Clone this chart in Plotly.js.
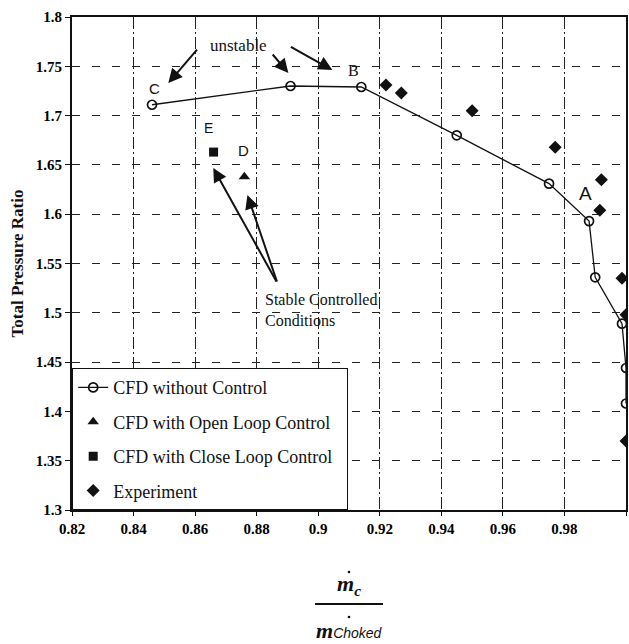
<!DOCTYPE html>
<html>
<head>
<meta charset="utf-8">
<script src="https://cdn.plot.ly/plotly-3.0.1.min.js"></script>
<style>html,body{margin:0;padding:0;background:#fff}#chart{width:629px;height:644px}</style>
</head>
<body>
<div id="chart"></div>
<script>
// Data
var cfdX = [0.846, 0.891, 0.914, 0.945, 0.975, 0.988, 0.990, 0.9987, 1.000, 1.000];
var cfdY = [1.711, 1.730, 1.729, 1.680, 1.631, 1.593, 1.536, 1.489, 1.444, 1.408];
var openX = [0.876];
var openY = [1.638];
var closeX = [0.866];
var closeY = [1.663];
var expX = [0.922, 0.927, 0.950, 0.977, 0.992, 0.9915, 0.9987, 1.000, 1.000];
var expY = [1.731, 1.723, 1.705, 1.668, 1.635, 1.604, 1.535, 1.498, 1.370];
var seriesNames = ['CFD without Control', 'CFD with Open Loop Control', 'CFD with Close Loop Control\u00a0\u00a0', 'Experiment'];
var xTickVals = [0.82, 0.84, 0.86, 0.88, 0.90, 0.92, 0.94, 0.96, 0.98, 1.00];
var xTickText = ['0.82', '0.84', '0.86', '0.88', '0.9', '0.92', '0.94', '0.96', '0.98', '1'];
var yTickVals = [1.30, 1.35, 1.40, 1.45, 1.50, 1.55, 1.60, 1.65, 1.70, 1.75, 1.80];
var yTickText = ['1.3', '1.35', '1.4', '1.45', '1.5', '1.55', '1.6', '1.65', '1.7', '1.75', '1.8'];

var serif = 'Liberation Serif, Times New Roman, serif';
var sans = 'Liberation Sans, Arial, sans-serif';

function bold(arr) { return arr.map(function (t) { return '<b>' + t + '</b>'; }); }

var traces = [
  {x: cfdX, y: cfdY, name: seriesNames[0], mode: 'lines+markers', type: 'scatter', legendgroup: 'a',
   line: {color: '#111', width: 1.3},
   marker: {symbol: 'circle-open', size: 9, color: '#111', line: {width: 1.7, color: '#111'}}},
  {x: openX, y: openY, name: seriesNames[1], mode: 'markers', type: 'scatter', legendgroup: 'b',
   marker: {symbol: 'triangle-up', size: 10, color: '#111'}},
  {x: closeX, y: closeY, name: seriesNames[2], mode: 'markers', type: 'scatter', legendgroup: 'c',
   marker: {symbol: 'square', size: 9, color: '#111'}},
  {x: expX, y: expY, name: seriesNames[3], mode: 'markers', type: 'scatter', legendgroup: 'd',
   marker: {symbol: 'diamond', size: 10, color: '#111'}}
];

function arrow(x, y, ax, ay) {
  return {x: x, y: y, xref: 'x', yref: 'y', ax: ax, ay: ay, text: '', showarrow: true,
          arrowhead: 2, arrowsize: 1.4, arrowwidth: 2, arrowcolor: '#111'};
}
function label(x, y, t, font, size, extra) {
  var a = {x: x, y: y, xref: 'x', yref: 'y', text: t, showarrow: false,
           font: {family: font, size: size, color: '#111'}};
  for (var k in extra) a[k] = extra[k];
  return a;
}

var annotations = [
  label(0.874, 1.771, 'unstable', serif, 17),
  arrow(0.8513, 1.733, 30, -35),
  arrow(0.8903, 1.7432, -17, -20),
  arrow(0.9046, 1.7462, -43, -24),
  label(0.8467, 1.727, 'C', sans, 15),
  label(0.8643, 1.6874, 'E', sans, 14),
  label(0.8757, 1.665, 'D', sans, 15),
  label(0.9115, 1.746, 'B', serif, 16),
  label(0.987, 1.6215, 'A', sans, 19),
  arrow(0.8659, 1.6469, 64, 115),
  arrow(0.8770, 1.6195, 30, 88),
  label(0.8822, 1.503, 'Stable Controlled<br>Conditions', serif, 16, {xanchor: 'left', align: 'left'}),
  // x-axis title as a fraction
  {x: 0.5, y: -0.184, xref: 'paper', yref: 'paper', showarrow: false,
   text: '<b><i>m</i></b><sub><b><i>c</i></b></sub>', font: {family: serif, size: 22, color: '#111'}},
  {x: 0.5, y: -0.273, xref: 'paper', yref: 'paper', showarrow: false, xanchor: 'center',
   text: '<b><i>m</i></b><span style="font-family:Liberation Sans;font-size:14px"><i>Choked</i></span>',
   font: {family: serif, size: 22, color: '#111'}}
];

function dot(py) {
  return {type: 'circle', xref: 'paper', yref: 'paper', xsizemode: 'pixel', ysizemode: 'pixel',
          xanchor: 0.5, yanchor: py, x0: -1.3, x1: 1.3, y0: -1.3, y1: 1.3,
          fillcolor: '#111', line: {width: 0}};
}

var tickFont = {family: serif, size: 15, color: '#000', weight: 700};

var layout = {
  width: 629, height: 644,
  margin: {l: 72, r: 3, t: 17, b: 134},
  paper_bgcolor: '#fff', plot_bgcolor: '#fff',
  font: {family: serif, size: 15, color: '#000'},
  showlegend: true,
  legend: {x: 0, y: 0, xanchor: 'left', yanchor: 'bottom', bgcolor: '#fff', bordercolor: '#111', borderwidth: 1.2,
           font: {family: serif, size: 18, color: '#111'}, traceorder: 'grouped', tracegroupgap: 8},
  xaxis: {range: [0.82, 1.0], tickmode: 'array', tickvals: xTickVals, ticktext: bold(xTickText),
          showgrid: true, gridcolor: '#222', gridwidth: 1,
          griddash: '12px,3px,2px,3px', showline: true, linecolor: '#111', linewidth: 2, mirror: true,
          ticks: 'outside', ticklen: 4, tickcolor: '#111', zeroline: false,
          tickfont: tickFont},
  yaxis: {range: [1.3, 1.8], tickmode: 'array', tickvals: yTickVals, ticktext: bold(yTickText),
          showgrid: true, gridcolor: '#222', gridwidth: 1,
          griddash: '8px,12px', showline: true, linecolor: '#111', linewidth: 2, mirror: true,
          ticks: 'outside', ticklen: 5, tickcolor: '#111', zeroline: false,
          tickfont: tickFont,
          title: {text: '<b>Total Pressure Ratio</b>', font: {family: serif, size: 17, color: '#111'}, standoff: 8}},
  shapes: [
    {type: 'line', xref: 'paper', yref: 'paper', x0: 0.4386, x1: 0.5614, y0: -0.1907, y1: -0.1907,
     line: {color: '#111', width: 2}},
    dot(-0.1258),
    dot(-0.217)
  ],
  annotations: annotations
};

Plotly.newPlot('chart', traces, layout, {displayModeBar: false, staticPlot: true});
</script>
</body>
</html>
